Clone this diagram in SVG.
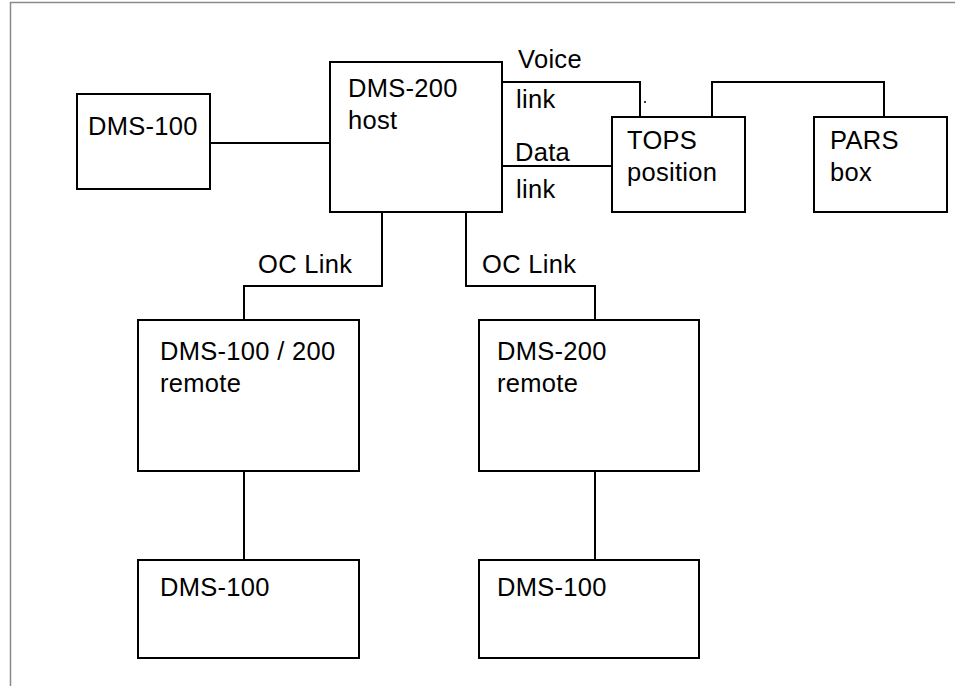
<svg xmlns="http://www.w3.org/2000/svg" width="955" height="686" viewBox="0 0 955 686">
<style>
.box{fill:#fff;stroke:#000;stroke-width:2}
.wire{fill:none;stroke:#000;stroke-width:2}
text{font-family:"Liberation Sans",Arial,sans-serif;font-size:25.5px;letter-spacing:0.3px;fill:#000}
</style>
<rect x="0" y="0" width="955" height="686" fill="#fff"/>
<rect x="10.5" y="2.5" width="1000" height="1000" fill="none" stroke="#8a8a8a" stroke-width="1.5"/>
<g id="connectors">
<line class="wire" x1="210" y1="143" x2="330" y2="143"/>
<path class="wire" d="M502,82 H640 V117"/>
<line class="wire" x1="502" y1="166" x2="612" y2="166"/>
<path class="wire" d="M712,117 V82 H884 V117"/>
<path class="wire" d="M382,212 V286 H244 V320"/>
<path class="wire" d="M466,212 V286 H595 V320"/>
<line class="wire" x1="244" y1="471" x2="244" y2="560"/>
<line class="wire" x1="595" y1="471" x2="595" y2="560"/>
<circle cx="645" cy="102" r="1" fill="#000"/>
<text x="518" y="68">Voice</text>
<text x="516" y="108">link</text>
<text x="515" y="161">Data</text>
<text x="516" y="198">link</text>
<text x="258" y="273">OC Link</text>
<text x="482" y="273">OC Link</text>
</g>
<g id="dms100-left">
<rect class="box" x="77" y="94" width="133" height="95"/>
<text x="88" y="135">DMS-100</text>
</g>
<g id="dms200-host">
<rect class="box" x="330" y="62" width="172" height="150"/>
<text x="348" y="97">DMS-200</text>
<text x="348" y="129">host</text>
</g>
<g id="tops-position">
<rect class="box" x="612" y="117" width="133" height="95"/>
<text x="627" y="149">TOPS</text>
<text x="627" y="181">position</text>
</g>
<g id="pars-box">
<rect class="box" x="814" y="117" width="133" height="95"/>
<text x="830" y="149">PARS</text>
<text x="830" y="181">box</text>
</g>
<g id="remote-100-200">
<rect class="box" x="138" y="320" width="221" height="151"/>
<text x="160" y="360">DMS-100 / 200</text>
<text x="160" y="392">remote</text>
</g>
<g id="remote-200">
<rect class="box" x="479" y="320" width="220" height="151"/>
<text x="497" y="360">DMS-200</text>
<text x="497" y="392">remote</text>
</g>
<g id="dms100-bottom-left">
<rect class="box" x="138" y="560" width="221" height="98"/>
<text x="160" y="596">DMS-100</text>
</g>
<g id="dms100-bottom-right">
<rect class="box" x="479" y="560" width="220" height="98"/>
<text x="497" y="596">DMS-100</text>
</g>
</svg>
